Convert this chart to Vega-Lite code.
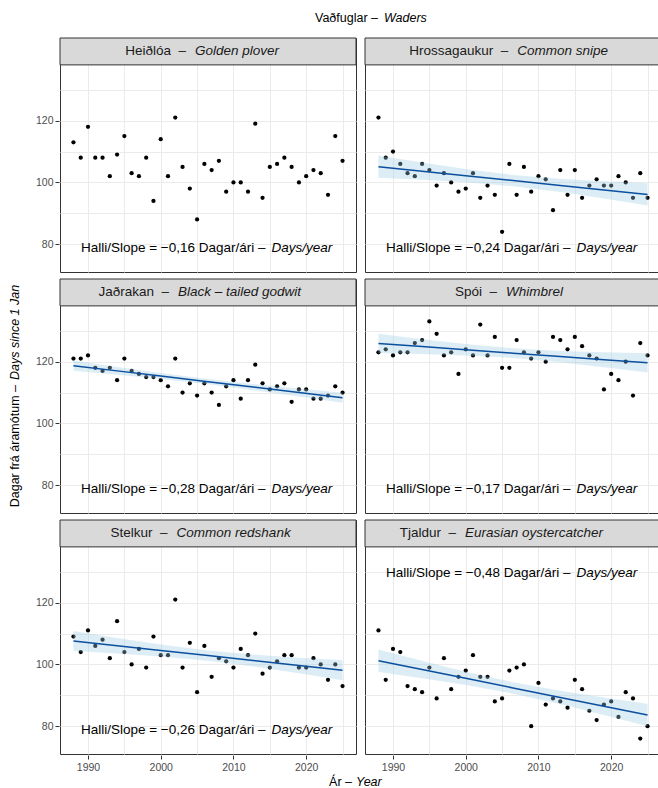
{
"$schema": "https://vega.github.io/schema/vega-lite/v6.json",
"padding": 0,
"background": "white",
"config": {
  "font": "Liberation Sans",
  "view": {"stroke": "#333333", "strokeWidth": 1},
  "axis": {"domain": false, "gridColor": "#ebebeb", "gridWidth": 1, "tickColor": "#333333", "tickSize": 4, "tickWidth": 1, "labelColor": "#4d4d4d", "labelFontSize": 10.5, "labelFont": "Liberation Sans"},
  "header": {"labelExpr": "''", "labelFontSize": 0, "labelPadding": 0, "title": null, "titlePadding": 0, "titleFontSize": 0}
},
"datasets": {"all": [
{"kind":"obs","sp":"Heiðlóa","year":1988,"days":113},{"kind":"obs","sp":"Heiðlóa","year":1989,"days":108},{"kind":"obs","sp":"Heiðlóa","year":1990,"days":118},{"kind":"obs","sp":"Heiðlóa","year":1991,"days":108},{"kind":"obs","sp":"Heiðlóa","year":1992,"days":108},{"kind":"obs","sp":"Heiðlóa","year":1993,"days":102},{"kind":"obs","sp":"Heiðlóa","year":1994,"days":109},{"kind":"obs","sp":"Heiðlóa","year":1995,"days":115},{"kind":"obs","sp":"Heiðlóa","year":1996,"days":103},{"kind":"obs","sp":"Heiðlóa","year":1997,"days":102},{"kind":"obs","sp":"Heiðlóa","year":1998,"days":108},{"kind":"obs","sp":"Heiðlóa","year":1999,"days":94},{"kind":"obs","sp":"Heiðlóa","year":2000,"days":114},{"kind":"obs","sp":"Heiðlóa","year":2001,"days":102},{"kind":"obs","sp":"Heiðlóa","year":2002,"days":121},{"kind":"obs","sp":"Heiðlóa","year":2003,"days":105},{"kind":"obs","sp":"Heiðlóa","year":2004,"days":98},{"kind":"obs","sp":"Heiðlóa","year":2005,"days":88},{"kind":"obs","sp":"Heiðlóa","year":2006,"days":106},{"kind":"obs","sp":"Heiðlóa","year":2007,"days":104},{"kind":"obs","sp":"Heiðlóa","year":2008,"days":107},{"kind":"obs","sp":"Heiðlóa","year":2009,"days":97},{"kind":"obs","sp":"Heiðlóa","year":2010,"days":100},{"kind":"obs","sp":"Heiðlóa","year":2011,"days":100},{"kind":"obs","sp":"Heiðlóa","year":2012,"days":97},{"kind":"obs","sp":"Heiðlóa","year":2013,"days":119},{"kind":"obs","sp":"Heiðlóa","year":2014,"days":95},{"kind":"obs","sp":"Heiðlóa","year":2015,"days":105},{"kind":"obs","sp":"Heiðlóa","year":2016,"days":106},{"kind":"obs","sp":"Heiðlóa","year":2017,"days":108},{"kind":"obs","sp":"Heiðlóa","year":2018,"days":105},{"kind":"obs","sp":"Heiðlóa","year":2019,"days":100},{"kind":"obs","sp":"Heiðlóa","year":2020,"days":102},{"kind":"obs","sp":"Heiðlóa","year":2021,"days":104},{"kind":"obs","sp":"Heiðlóa","year":2022,"days":103},{"kind":"obs","sp":"Heiðlóa","year":2023,"days":96},{"kind":"obs","sp":"Heiðlóa","year":2024,"days":115},{"kind":"obs","sp":"Heiðlóa","year":2025,"days":107},
{"kind":"obs","sp":"Hrossagaukur","year":1988,"days":121},{"kind":"obs","sp":"Hrossagaukur","year":1989,"days":108},{"kind":"obs","sp":"Hrossagaukur","year":1990,"days":110},{"kind":"obs","sp":"Hrossagaukur","year":1991,"days":106},{"kind":"obs","sp":"Hrossagaukur","year":1992,"days":103},{"kind":"obs","sp":"Hrossagaukur","year":1993,"days":102},{"kind":"obs","sp":"Hrossagaukur","year":1994,"days":106},{"kind":"obs","sp":"Hrossagaukur","year":1995,"days":104},{"kind":"obs","sp":"Hrossagaukur","year":1996,"days":99},{"kind":"obs","sp":"Hrossagaukur","year":1997,"days":103},{"kind":"obs","sp":"Hrossagaukur","year":1998,"days":100},{"kind":"obs","sp":"Hrossagaukur","year":1999,"days":97},{"kind":"obs","sp":"Hrossagaukur","year":2000,"days":98},{"kind":"obs","sp":"Hrossagaukur","year":2001,"days":103},{"kind":"obs","sp":"Hrossagaukur","year":2002,"days":95},{"kind":"obs","sp":"Hrossagaukur","year":2003,"days":99},{"kind":"obs","sp":"Hrossagaukur","year":2004,"days":96},{"kind":"obs","sp":"Hrossagaukur","year":2005,"days":84},{"kind":"obs","sp":"Hrossagaukur","year":2006,"days":106},{"kind":"obs","sp":"Hrossagaukur","year":2007,"days":96},{"kind":"obs","sp":"Hrossagaukur","year":2008,"days":105},{"kind":"obs","sp":"Hrossagaukur","year":2009,"days":97},{"kind":"obs","sp":"Hrossagaukur","year":2010,"days":102},{"kind":"obs","sp":"Hrossagaukur","year":2011,"days":101},{"kind":"obs","sp":"Hrossagaukur","year":2012,"days":91},{"kind":"obs","sp":"Hrossagaukur","year":2013,"days":104},{"kind":"obs","sp":"Hrossagaukur","year":2014,"days":96},{"kind":"obs","sp":"Hrossagaukur","year":2015,"days":104},{"kind":"obs","sp":"Hrossagaukur","year":2016,"days":95},{"kind":"obs","sp":"Hrossagaukur","year":2017,"days":99},{"kind":"obs","sp":"Hrossagaukur","year":2018,"days":101},{"kind":"obs","sp":"Hrossagaukur","year":2019,"days":99},{"kind":"obs","sp":"Hrossagaukur","year":2020,"days":99},{"kind":"obs","sp":"Hrossagaukur","year":2021,"days":102},{"kind":"obs","sp":"Hrossagaukur","year":2022,"days":100},{"kind":"obs","sp":"Hrossagaukur","year":2023,"days":95},{"kind":"obs","sp":"Hrossagaukur","year":2024,"days":103},{"kind":"obs","sp":"Hrossagaukur","year":2025,"days":95},
{"kind":"obs","sp":"Jaðrakan","year":1988,"days":121},{"kind":"obs","sp":"Jaðrakan","year":1989,"days":121},{"kind":"obs","sp":"Jaðrakan","year":1990,"days":122},{"kind":"obs","sp":"Jaðrakan","year":1991,"days":118},{"kind":"obs","sp":"Jaðrakan","year":1992,"days":117},{"kind":"obs","sp":"Jaðrakan","year":1993,"days":118},{"kind":"obs","sp":"Jaðrakan","year":1994,"days":114},{"kind":"obs","sp":"Jaðrakan","year":1995,"days":121},{"kind":"obs","sp":"Jaðrakan","year":1996,"days":117},{"kind":"obs","sp":"Jaðrakan","year":1997,"days":116},{"kind":"obs","sp":"Jaðrakan","year":1998,"days":115},{"kind":"obs","sp":"Jaðrakan","year":1999,"days":115},{"kind":"obs","sp":"Jaðrakan","year":2000,"days":114},{"kind":"obs","sp":"Jaðrakan","year":2001,"days":112},{"kind":"obs","sp":"Jaðrakan","year":2002,"days":121},{"kind":"obs","sp":"Jaðrakan","year":2003,"days":110},{"kind":"obs","sp":"Jaðrakan","year":2004,"days":113},{"kind":"obs","sp":"Jaðrakan","year":2005,"days":109},{"kind":"obs","sp":"Jaðrakan","year":2006,"days":113},{"kind":"obs","sp":"Jaðrakan","year":2007,"days":110},{"kind":"obs","sp":"Jaðrakan","year":2008,"days":106},{"kind":"obs","sp":"Jaðrakan","year":2009,"days":112},{"kind":"obs","sp":"Jaðrakan","year":2010,"days":114},{"kind":"obs","sp":"Jaðrakan","year":2011,"days":108},{"kind":"obs","sp":"Jaðrakan","year":2012,"days":114},{"kind":"obs","sp":"Jaðrakan","year":2013,"days":119},{"kind":"obs","sp":"Jaðrakan","year":2014,"days":113},{"kind":"obs","sp":"Jaðrakan","year":2015,"days":111},{"kind":"obs","sp":"Jaðrakan","year":2016,"days":112},{"kind":"obs","sp":"Jaðrakan","year":2017,"days":113},{"kind":"obs","sp":"Jaðrakan","year":2018,"days":107},{"kind":"obs","sp":"Jaðrakan","year":2019,"days":111},{"kind":"obs","sp":"Jaðrakan","year":2020,"days":111},{"kind":"obs","sp":"Jaðrakan","year":2021,"days":108},{"kind":"obs","sp":"Jaðrakan","year":2022,"days":108},{"kind":"obs","sp":"Jaðrakan","year":2023,"days":109},{"kind":"obs","sp":"Jaðrakan","year":2024,"days":112},{"kind":"obs","sp":"Jaðrakan","year":2025,"days":110},
{"kind":"obs","sp":"Spói","year":1988,"days":123},{"kind":"obs","sp":"Spói","year":1989,"days":124},{"kind":"obs","sp":"Spói","year":1990,"days":122},{"kind":"obs","sp":"Spói","year":1991,"days":123},{"kind":"obs","sp":"Spói","year":1992,"days":123},{"kind":"obs","sp":"Spói","year":1993,"days":126},{"kind":"obs","sp":"Spói","year":1994,"days":127},{"kind":"obs","sp":"Spói","year":1995,"days":133},{"kind":"obs","sp":"Spói","year":1996,"days":129},{"kind":"obs","sp":"Spói","year":1997,"days":122},{"kind":"obs","sp":"Spói","year":1998,"days":123},{"kind":"obs","sp":"Spói","year":1999,"days":116},{"kind":"obs","sp":"Spói","year":2000,"days":124},{"kind":"obs","sp":"Spói","year":2001,"days":122},{"kind":"obs","sp":"Spói","year":2002,"days":132},{"kind":"obs","sp":"Spói","year":2003,"days":122},{"kind":"obs","sp":"Spói","year":2004,"days":128},{"kind":"obs","sp":"Spói","year":2005,"days":118},{"kind":"obs","sp":"Spói","year":2006,"days":118},{"kind":"obs","sp":"Spói","year":2007,"days":127},{"kind":"obs","sp":"Spói","year":2008,"days":123},{"kind":"obs","sp":"Spói","year":2009,"days":121},{"kind":"obs","sp":"Spói","year":2010,"days":123},{"kind":"obs","sp":"Spói","year":2011,"days":120},{"kind":"obs","sp":"Spói","year":2012,"days":128},{"kind":"obs","sp":"Spói","year":2013,"days":127},{"kind":"obs","sp":"Spói","year":2014,"days":124},{"kind":"obs","sp":"Spói","year":2015,"days":128},{"kind":"obs","sp":"Spói","year":2016,"days":125},{"kind":"obs","sp":"Spói","year":2017,"days":122},{"kind":"obs","sp":"Spói","year":2018,"days":121},{"kind":"obs","sp":"Spói","year":2019,"days":111},{"kind":"obs","sp":"Spói","year":2020,"days":116},{"kind":"obs","sp":"Spói","year":2021,"days":114},{"kind":"obs","sp":"Spói","year":2022,"days":120},{"kind":"obs","sp":"Spói","year":2023,"days":109},{"kind":"obs","sp":"Spói","year":2024,"days":126},{"kind":"obs","sp":"Spói","year":2025,"days":122},
{"kind":"obs","sp":"Stelkur","year":1988,"days":109},{"kind":"obs","sp":"Stelkur","year":1989,"days":104},{"kind":"obs","sp":"Stelkur","year":1990,"days":111},{"kind":"obs","sp":"Stelkur","year":1991,"days":106},{"kind":"obs","sp":"Stelkur","year":1992,"days":108},{"kind":"obs","sp":"Stelkur","year":1993,"days":102},{"kind":"obs","sp":"Stelkur","year":1994,"days":114},{"kind":"obs","sp":"Stelkur","year":1995,"days":104},{"kind":"obs","sp":"Stelkur","year":1996,"days":100},{"kind":"obs","sp":"Stelkur","year":1997,"days":105},{"kind":"obs","sp":"Stelkur","year":1998,"days":99},{"kind":"obs","sp":"Stelkur","year":1999,"days":109},{"kind":"obs","sp":"Stelkur","year":2000,"days":103},{"kind":"obs","sp":"Stelkur","year":2001,"days":103},{"kind":"obs","sp":"Stelkur","year":2002,"days":121},{"kind":"obs","sp":"Stelkur","year":2003,"days":99},{"kind":"obs","sp":"Stelkur","year":2004,"days":107},{"kind":"obs","sp":"Stelkur","year":2005,"days":91},{"kind":"obs","sp":"Stelkur","year":2006,"days":106},{"kind":"obs","sp":"Stelkur","year":2007,"days":96},{"kind":"obs","sp":"Stelkur","year":2008,"days":102},{"kind":"obs","sp":"Stelkur","year":2009,"days":101},{"kind":"obs","sp":"Stelkur","year":2010,"days":99},{"kind":"obs","sp":"Stelkur","year":2011,"days":105},{"kind":"obs","sp":"Stelkur","year":2012,"days":103},{"kind":"obs","sp":"Stelkur","year":2013,"days":110},{"kind":"obs","sp":"Stelkur","year":2014,"days":97},{"kind":"obs","sp":"Stelkur","year":2015,"days":99},{"kind":"obs","sp":"Stelkur","year":2016,"days":101},{"kind":"obs","sp":"Stelkur","year":2017,"days":103},{"kind":"obs","sp":"Stelkur","year":2018,"days":103},{"kind":"obs","sp":"Stelkur","year":2019,"days":99},{"kind":"obs","sp":"Stelkur","year":2020,"days":99},{"kind":"obs","sp":"Stelkur","year":2021,"days":102},{"kind":"obs","sp":"Stelkur","year":2022,"days":100},{"kind":"obs","sp":"Stelkur","year":2023,"days":95},{"kind":"obs","sp":"Stelkur","year":2024,"days":100},{"kind":"obs","sp":"Stelkur","year":2025,"days":93},
{"kind":"obs","sp":"Tjaldur","year":1988,"days":111},{"kind":"obs","sp":"Tjaldur","year":1989,"days":95},{"kind":"obs","sp":"Tjaldur","year":1990,"days":105},{"kind":"obs","sp":"Tjaldur","year":1991,"days":104},{"kind":"obs","sp":"Tjaldur","year":1992,"days":93},{"kind":"obs","sp":"Tjaldur","year":1993,"days":92},{"kind":"obs","sp":"Tjaldur","year":1994,"days":91},{"kind":"obs","sp":"Tjaldur","year":1995,"days":99},{"kind":"obs","sp":"Tjaldur","year":1996,"days":89},{"kind":"obs","sp":"Tjaldur","year":1997,"days":102},{"kind":"obs","sp":"Tjaldur","year":1998,"days":92},{"kind":"obs","sp":"Tjaldur","year":1999,"days":96},{"kind":"obs","sp":"Tjaldur","year":2000,"days":98},{"kind":"obs","sp":"Tjaldur","year":2001,"days":103},{"kind":"obs","sp":"Tjaldur","year":2002,"days":96},{"kind":"obs","sp":"Tjaldur","year":2003,"days":96},{"kind":"obs","sp":"Tjaldur","year":2004,"days":88},{"kind":"obs","sp":"Tjaldur","year":2005,"days":89},{"kind":"obs","sp":"Tjaldur","year":2006,"days":98},{"kind":"obs","sp":"Tjaldur","year":2007,"days":99},{"kind":"obs","sp":"Tjaldur","year":2008,"days":100},{"kind":"obs","sp":"Tjaldur","year":2009,"days":80},{"kind":"obs","sp":"Tjaldur","year":2010,"days":94},{"kind":"obs","sp":"Tjaldur","year":2011,"days":87},{"kind":"obs","sp":"Tjaldur","year":2012,"days":89},{"kind":"obs","sp":"Tjaldur","year":2013,"days":88},{"kind":"obs","sp":"Tjaldur","year":2014,"days":86},{"kind":"obs","sp":"Tjaldur","year":2015,"days":95},{"kind":"obs","sp":"Tjaldur","year":2016,"days":92},{"kind":"obs","sp":"Tjaldur","year":2017,"days":85},{"kind":"obs","sp":"Tjaldur","year":2018,"days":82},{"kind":"obs","sp":"Tjaldur","year":2019,"days":87},{"kind":"obs","sp":"Tjaldur","year":2020,"days":88},{"kind":"obs","sp":"Tjaldur","year":2021,"days":83},{"kind":"obs","sp":"Tjaldur","year":2022,"days":91},{"kind":"obs","sp":"Tjaldur","year":2023,"days":89},{"kind":"obs","sp":"Tjaldur","year":2024,"days":76},{"kind":"obs","sp":"Tjaldur","year":2025,"days":80},
{"kind":"fit","sp":"Hrossagaukur","year":1988,"fit":105.1,"lo":101.5,"hi":108.7},{"kind":"fit","sp":"Hrossagaukur","year":1994,"fit":103.64,"lo":100.85,"hi":106.43},{"kind":"fit","sp":"Hrossagaukur","year":2000,"fit":102.18,"lo":100.05,"hi":104.31},{"kind":"fit","sp":"Hrossagaukur","year":2006.5,"fit":100.6,"lo":98.76,"hi":102.44},{"kind":"fit","sp":"Hrossagaukur","year":2013,"fit":99.02,"lo":96.89,"hi":101.15},{"kind":"fit","sp":"Hrossagaukur","year":2019,"fit":97.56,"lo":94.77,"hi":100.35},{"kind":"fit","sp":"Hrossagaukur","year":2025,"fit":96.1,"lo":92.5,"hi":99.7},
{"kind":"fit","sp":"Jaðrakan","year":1988,"fit":118.7,"lo":117.05,"hi":120.35},{"kind":"fit","sp":"Jaðrakan","year":1994,"fit":117.01,"lo":115.73,"hi":118.29},{"kind":"fit","sp":"Jaðrakan","year":2000,"fit":115.33,"lo":114.35,"hi":116.31},{"kind":"fit","sp":"Jaðrakan","year":2006.5,"fit":113.5,"lo":112.66,"hi":114.34},{"kind":"fit","sp":"Jaðrakan","year":2013,"fit":111.67,"lo":110.69,"hi":112.65},{"kind":"fit","sp":"Jaðrakan","year":2019,"fit":109.99,"lo":108.71,"hi":111.27},{"kind":"fit","sp":"Jaðrakan","year":2025,"fit":108.3,"lo":106.65,"hi":109.95},
{"kind":"fit","sp":"Spói","year":1988,"fit":125.9,"lo":122.8,"hi":129.0},{"kind":"fit","sp":"Spói","year":1994,"fit":124.88,"lo":122.48,"hi":127.28},{"kind":"fit","sp":"Spói","year":2000,"fit":123.86,"lo":122.02,"hi":125.7},{"kind":"fit","sp":"Spói","year":2006.5,"fit":122.75,"lo":121.17,"hi":124.33},{"kind":"fit","sp":"Spói","year":2013,"fit":121.64,"lo":119.8,"hi":123.48},{"kind":"fit","sp":"Spói","year":2019,"fit":120.62,"lo":118.22,"hi":123.02},{"kind":"fit","sp":"Spói","year":2025,"fit":119.6,"lo":116.5,"hi":122.7},
{"kind":"fit","sp":"Stelkur","year":1988,"fit":107.6,"lo":104.35,"hi":110.85},{"kind":"fit","sp":"Stelkur","year":1994,"fit":106.06,"lo":103.54,"hi":108.58},{"kind":"fit","sp":"Stelkur","year":2000,"fit":104.52,"lo":102.59,"hi":106.45},{"kind":"fit","sp":"Stelkur","year":2006.5,"fit":102.85,"lo":101.19,"hi":104.51},{"kind":"fit","sp":"Stelkur","year":2013,"fit":101.18,"lo":99.25,"hi":103.11},{"kind":"fit","sp":"Stelkur","year":2019,"fit":99.64,"lo":97.12,"hi":102.16},{"kind":"fit","sp":"Stelkur","year":2025,"fit":98.1,"lo":94.85,"hi":101.35},
{"kind":"fit","sp":"Tjaldur","year":1988,"fit":101.2,"lo":97.55,"hi":104.85},{"kind":"fit","sp":"Tjaldur","year":1994,"fit":98.35,"lo":95.52,"hi":101.18},{"kind":"fit","sp":"Tjaldur","year":2000,"fit":95.49,"lo":93.33,"hi":97.65},{"kind":"fit","sp":"Tjaldur","year":2006.5,"fit":92.4,"lo":90.54,"hi":94.26},{"kind":"fit","sp":"Tjaldur","year":2013,"fit":89.31,"lo":87.15,"hi":91.47},{"kind":"fit","sp":"Tjaldur","year":2019,"fit":86.45,"lo":83.62,"hi":89.28},{"kind":"fit","sp":"Tjaldur","year":2025,"fit":83.6,"lo":79.95,"hi":87.25},
{"kind":"lab","sp":"Heiðlóa","en":"Golden plover","slope":"Halli/Slope = −0,16 Dagar/ári –"},
{"kind":"lab","sp":"Hrossagaukur","en":"Common snipe","slope":"Halli/Slope = −0,24 Dagar/ári –"},
{"kind":"lab","sp":"Jaðrakan","en":"Black – tailed godwit","slope":"Halli/Slope = −0,28 Dagar/ári –"},
{"kind":"lab","sp":"Spói","en":"Whimbrel","slope":"Halli/Slope = −0,17 Dagar/ári –"},
{"kind":"lab","sp":"Stelkur","en":"Common redshank","slope":"Halli/Slope = −0,26 Dagar/ári –"},
{"kind":"lab","sp":"Tjaldur","en":"Eurasian oystercatcher","slope":"Halli/Slope = −0,48 Dagar/ári –"}
]},
"spacing": 2,
"vconcat": [
  {
    "width": 658, "height": 35,
    "view": {"stroke": null},
    "data": {"values": [{"t": 1}]},
    "layer": [
      {"mark": {"type": "text", "align": "right", "baseline": "middle", "fontSize": 12.5, "dx": 49, "color": "#000000"}, "encoding": {"text": {"value": "Vaðfuglar –"}}},
      {"mark": {"type": "text", "align": "left", "baseline": "middle", "fontSize": 12.5, "fontStyle": "italic", "dx": 55, "color": "#000000"}, "encoding": {"text": {"value": "Waders"}}}
    ]
  },
  {
    "spacing": 5,
    "hconcat": [
      {
        "width": 30, "height": 716,
        "view": {"stroke": null},
        "data": {"values": [{"t": 1}]},
        "layer": [
          {"mark": {"type": "text", "align": "right", "baseline": "middle", "angle": 270, "fontSize": 12.5, "dx": 11, "color": "#000000"}, "encoding": {"text": {"value": "Dagar frá áramótum –"}}},
          {"mark": {"type": "text", "align": "left", "baseline": "middle", "angle": 270, "fontSize": 12.5, "fontStyle": "italic", "dx": 16, "color": "#000000"}, "encoding": {"text": {"value": "Days since 1 Jan"}}}
        ]
      },
      {
        "data": {"name": "all"},
        "facet": {"field": "sp", "type": "nominal", "header": {"labelExpr": "''", "labelFontSize": 0, "labelPadding": 0, "title": null, "titlePadding": 0}, "sort": ["Heiðlóa", "Hrossagaukur", "Jaðrakan", "Spói", "Stelkur", "Tjaldur"]},
        "columns": 2,
        "spacing": {"row": 5, "column": 7},
        "spec": {
          "width": 296, "height": 234,
          "layer": [
            {"transform": [{"filter": "datum.kind === 'obs'"}],
             "mark": {"type": "circle", "size": 18, "color": "#000000", "opacity": 1},
             "encoding": {
               "x": {"field": "year", "type": "quantitative", "scale": {"domain": [1986.15, 2026.85], "nice": false, "zero": false},
                     "axis": {"title": null, "values": [1990, 1995, 2000, 2005, 2010, 2015, 2020, 2025], "format": "d", "labelPadding": 3,
                              "labelExpr": "datum.value % 10 === 0 ? datum.label : ''",
                              "tickOpacity": {"condition": {"test": "datum.value % 10 !== 0", "value": 0}, "value": 1}}},
               "y": {"field": "days", "type": "quantitative", "scale": {"domain": [71, 146.75], "nice": false, "zero": false},
                     "axis": {"title": null, "values": [80, 90, 100, 110, 120, 130], "format": "d", "labelPadding": 2,
                              "labelExpr": "datum.value % 20 === 0 ? datum.label : ''",
                              "tickOpacity": {"condition": {"test": "datum.value % 20 !== 0", "value": 0}, "value": 1}}}
             }},
            {"transform": [{"filter": "datum.kind === 'fit'"}],
             "mark": {"type": "area", "color": "#9ecae1", "opacity": 0.35},
             "encoding": {"x": {"field": "year", "type": "quantitative"}, "y": {"field": "lo", "type": "quantitative"}, "y2": {"field": "hi"}}},
            {"transform": [{"filter": "datum.kind === 'fit'"}],
             "mark": {"type": "line", "color": "#0b4f9f", "strokeWidth": 1.5},
             "encoding": {"x": {"field": "year", "type": "quantitative"}, "y": {"field": "fit", "type": "quantitative"}}},
            {"transform": [{"filter": "datum.kind === 'lab'"}],
             "mark": {"type": "rect", "fill": "#d9d9d9", "stroke": "#333333", "strokeWidth": 1},
             "encoding": {"x": {"datum": 1986.15}, "x2": {"datum": 2026.85}, "y": {"datum": 138.05}, "y2": {"datum": 146.75}}},
            {"transform": [{"filter": "datum.kind === 'lab' && datum.sp !== 'Tjaldur'"}],
             "mark": {"type": "text", "align": "right", "baseline": "middle", "fontSize": 13.5, "dx": -6, "color": "#000000"},
             "encoding": {"x": {"datum": 2015.24}, "y": {"datum": 78.8}, "text": {"field": "slope"}}},
            {"transform": [{"filter": "datum.kind === 'lab' && datum.sp !== 'Tjaldur'"}],
             "mark": {"type": "text", "align": "left", "baseline": "middle", "fontSize": 13.5, "fontStyle": "italic", "color": "#000000"},
             "encoding": {"x": {"datum": 2015.24}, "y": {"datum": 78.8}, "text": {"value": "Days/year"}}},
            {"transform": [{"filter": "datum.kind === 'lab' && datum.sp === 'Tjaldur'"}],
             "mark": {"type": "text", "align": "right", "baseline": "middle", "fontSize": 13.5, "dx": -6, "color": "#000000"},
             "encoding": {"x": {"datum": 2015.24}, "y": {"datum": 129.45}, "text": {"field": "slope"}}},
            {"transform": [{"filter": "datum.kind === 'lab' && datum.sp === 'Tjaldur'"}],
             "mark": {"type": "text", "align": "left", "baseline": "middle", "fontSize": 13.5, "fontStyle": "italic", "color": "#000000"},
             "encoding": {"x": {"datum": 2015.24}, "y": {"datum": 129.45}, "text": {"value": "Days/year"}}},
            {"transform": [{"filter": "datum.kind === 'lab' && datum.sp === 'Heiðlóa'"}, {"calculate": "datum.sp + '\u00a0\u00a0–'", "as": "stripIs"}],
             "mark": {"type": "text", "align": "right", "baseline": "middle", "fontSize": 13.5, "dx": -9, "color": "#1a1a1a"},
             "encoding": {"x": {"datum": 2004.71}, "y": {"datum": 142.4}, "text": {"field": "stripIs"}}},
            {"transform": [{"filter": "datum.kind === 'lab' && datum.sp === 'Heiðlóa'"}],
             "mark": {"type": "text", "align": "left", "baseline": "middle", "fontSize": 13.5, "fontStyle": "italic", "color": "#1a1a1a"},
             "encoding": {"x": {"datum": 2004.71}, "y": {"datum": 142.4}, "text": {"field": "en"}}},
            {"transform": [{"filter": "datum.kind === 'lab' && datum.sp === 'Hrossagaukur'"}, {"calculate": "datum.sp + '\u00a0\u00a0–'", "as": "stripIs"}],
             "mark": {"type": "text", "align": "right", "baseline": "middle", "fontSize": 13.5, "dx": -9, "color": "#1a1a1a"},
             "encoding": {"x": {"datum": 2007.09}, "y": {"datum": 142.4}, "text": {"field": "stripIs"}}},
            {"transform": [{"filter": "datum.kind === 'lab' && datum.sp === 'Hrossagaukur'"}],
             "mark": {"type": "text", "align": "left", "baseline": "middle", "fontSize": 13.5, "fontStyle": "italic", "color": "#1a1a1a"},
             "encoding": {"x": {"datum": 2007.09}, "y": {"datum": 142.4}, "text": {"field": "en"}}},
            {"transform": [{"filter": "datum.kind === 'lab' && datum.sp === 'Jaðrakan'"}, {"calculate": "datum.sp + '\u00a0\u00a0–'", "as": "stripIs"}],
             "mark": {"type": "text", "align": "right", "baseline": "middle", "fontSize": 13.5, "dx": -9, "color": "#1a1a1a"},
             "encoding": {"x": {"datum": 2002.37}, "y": {"datum": 142.4}, "text": {"field": "stripIs"}}},
            {"transform": [{"filter": "datum.kind === 'lab' && datum.sp === 'Jaðrakan'"}],
             "mark": {"type": "text", "align": "left", "baseline": "middle", "fontSize": 13.5, "fontStyle": "italic", "color": "#1a1a1a"},
             "encoding": {"x": {"datum": 2002.37}, "y": {"datum": 142.4}, "text": {"field": "en"}}},
            {"transform": [{"filter": "datum.kind === 'lab' && datum.sp === 'Spói'"}, {"calculate": "datum.sp + '\u00a0\u00a0–'", "as": "stripIs"}],
             "mark": {"type": "text", "align": "right", "baseline": "middle", "fontSize": 13.5, "dx": -9, "color": "#1a1a1a"},
             "encoding": {"x": {"datum": 2005.54}, "y": {"datum": 142.4}, "text": {"field": "stripIs"}}},
            {"transform": [{"filter": "datum.kind === 'lab' && datum.sp === 'Spói'"}],
             "mark": {"type": "text", "align": "left", "baseline": "middle", "fontSize": 13.5, "fontStyle": "italic", "color": "#1a1a1a"},
             "encoding": {"x": {"datum": 2005.54}, "y": {"datum": 142.4}, "text": {"field": "en"}}},
            {"transform": [{"filter": "datum.kind === 'lab' && datum.sp === 'Stelkur'"}, {"calculate": "datum.sp + '\u00a0\u00a0–'", "as": "stripIs"}],
             "mark": {"type": "text", "align": "right", "baseline": "middle", "fontSize": 13.5, "dx": -9, "color": "#1a1a1a"},
             "encoding": {"x": {"datum": 2002.18}, "y": {"datum": 142.4}, "text": {"field": "stripIs"}}},
            {"transform": [{"filter": "datum.kind === 'lab' && datum.sp === 'Stelkur'"}],
             "mark": {"type": "text", "align": "left", "baseline": "middle", "fontSize": 13.5, "fontStyle": "italic", "color": "#1a1a1a"},
             "encoding": {"x": {"datum": 2002.18}, "y": {"datum": 142.4}, "text": {"field": "en"}}},
            {"transform": [{"filter": "datum.kind === 'lab' && datum.sp === 'Tjaldur'"}, {"calculate": "datum.sp + '\u00a0\u00a0–'", "as": "stripIs"}],
             "mark": {"type": "text", "align": "right", "baseline": "middle", "fontSize": 13.5, "dx": -9, "color": "#1a1a1a"},
             "encoding": {"x": {"datum": 1999.9}, "y": {"datum": 142.4}, "text": {"field": "stripIs"}}},
            {"transform": [{"filter": "datum.kind === 'lab' && datum.sp === 'Tjaldur'"}],
             "mark": {"type": "text", "align": "left", "baseline": "middle", "fontSize": 13.5, "fontStyle": "italic", "color": "#1a1a1a"},
             "encoding": {"x": {"datum": 1999.9}, "y": {"datum": 142.4}, "text": {"field": "en"}}}
          ]
        }
      }
    ]
  },
  {
    "width": 658, "height": 14,
    "view": {"stroke": null},
    "data": {"values": [{"t": 1}]},
    "layer": [
      {"mark": {"type": "text", "align": "right", "baseline": "middle", "fontSize": 12.5, "dx": 23, "color": "#000000"}, "encoding": {"text": {"value": "Ár –"}}},
      {"mark": {"type": "text", "align": "left", "baseline": "middle", "fontSize": 12.5, "fontStyle": "italic", "dx": 27, "color": "#000000"}, "encoding": {"text": {"value": "Year"}}}
    ]
  }
]
}
